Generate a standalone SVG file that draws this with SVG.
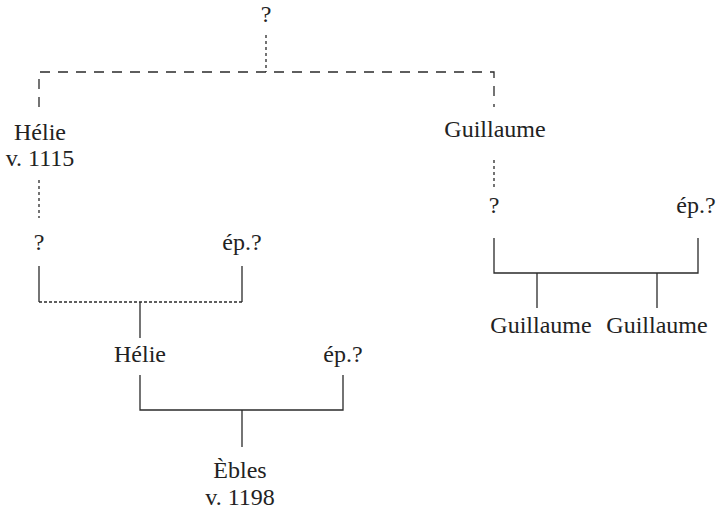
<svg xmlns="http://www.w3.org/2000/svg" width="725" height="514" viewBox="0 0 725 514">
  <style>
    .bg { fill: #ffffff; }
    .lbl { font-family: 'Liberation Serif', 'Times New Roman', Times, serif; font-size: 24px; fill: #222222; text-anchor: middle; }
    .line { stroke: #2a2a2a; stroke-width: 1.3; fill: none; }
    .long { stroke-dasharray: 10 8; }
    .short { stroke-dasharray: 3 3; }
    .fine { stroke-dasharray: 3 2; }
  </style>
  <rect class="bg" x="0" y="0" width="725" height="514"/>

  <g id="connectors">
    <!-- uncertain descent from the common ancestor -->
    <path class="line short" d="M266,35 V72"/>
    <path class="line long" d="M39,107 V72 H494 V107"/>
    <path class="line short" d="M39,180 V218"/>
    <path class="line short" d="M494,160 V190"/>
    <!-- first couple, left branch -->
    <path class="line" d="M39,266 V302"/>
    <path class="line" d="M242,266 V302"/>
    <path class="line fine" d="M39,302 H242"/>
    <path class="line" d="M140,302 V338"/>
    <!-- second couple, left branch -->
    <path class="line" d="M140,375 V410 H343 V375"/>
    <path class="line" d="M242,410 V447"/>
    <!-- couple, right branch -->
    <path class="line" d="M494,238 V273 H698 V238"/>
    <path class="line" d="M537,273 V308"/>
    <path class="line" d="M657,273 V308"/>
  </g>

  <g id="n-root"><text class="lbl" x="266" y="22">?</text></g>
  <g id="n-helie-1115"><text class="lbl" x="40" y="140">Hélie</text><text class="lbl" x="40" y="166">v. 1115</text></g>
  <g id="n-guillaume"><text class="lbl" x="495" y="137">Guillaume</text></g>
  <g id="n-unknown-left"><text class="lbl" x="39" y="250">?</text></g>
  <g id="n-spouse-left"><text class="lbl" x="242" y="250">ép.?</text></g>
  <g id="n-helie"><text class="lbl" x="140" y="362">Hélie</text></g>
  <g id="n-spouse-helie"><text class="lbl" x="343" y="362">ép.?</text></g>
  <g id="n-ebles"><text class="lbl" x="240" y="478">Èbles</text><text class="lbl" x="240" y="505">v. 1198</text></g>
  <g id="n-unknown-right"><text class="lbl" x="494" y="213">?</text></g>
  <g id="n-spouse-right"><text class="lbl" x="696" y="213">ép.?</text></g>
  <g id="n-guillaume-a"><text class="lbl" x="541" y="333">Guillaume</text></g>
  <g id="n-guillaume-b"><text class="lbl" x="657" y="333">Guillaume</text></g>
</svg>
